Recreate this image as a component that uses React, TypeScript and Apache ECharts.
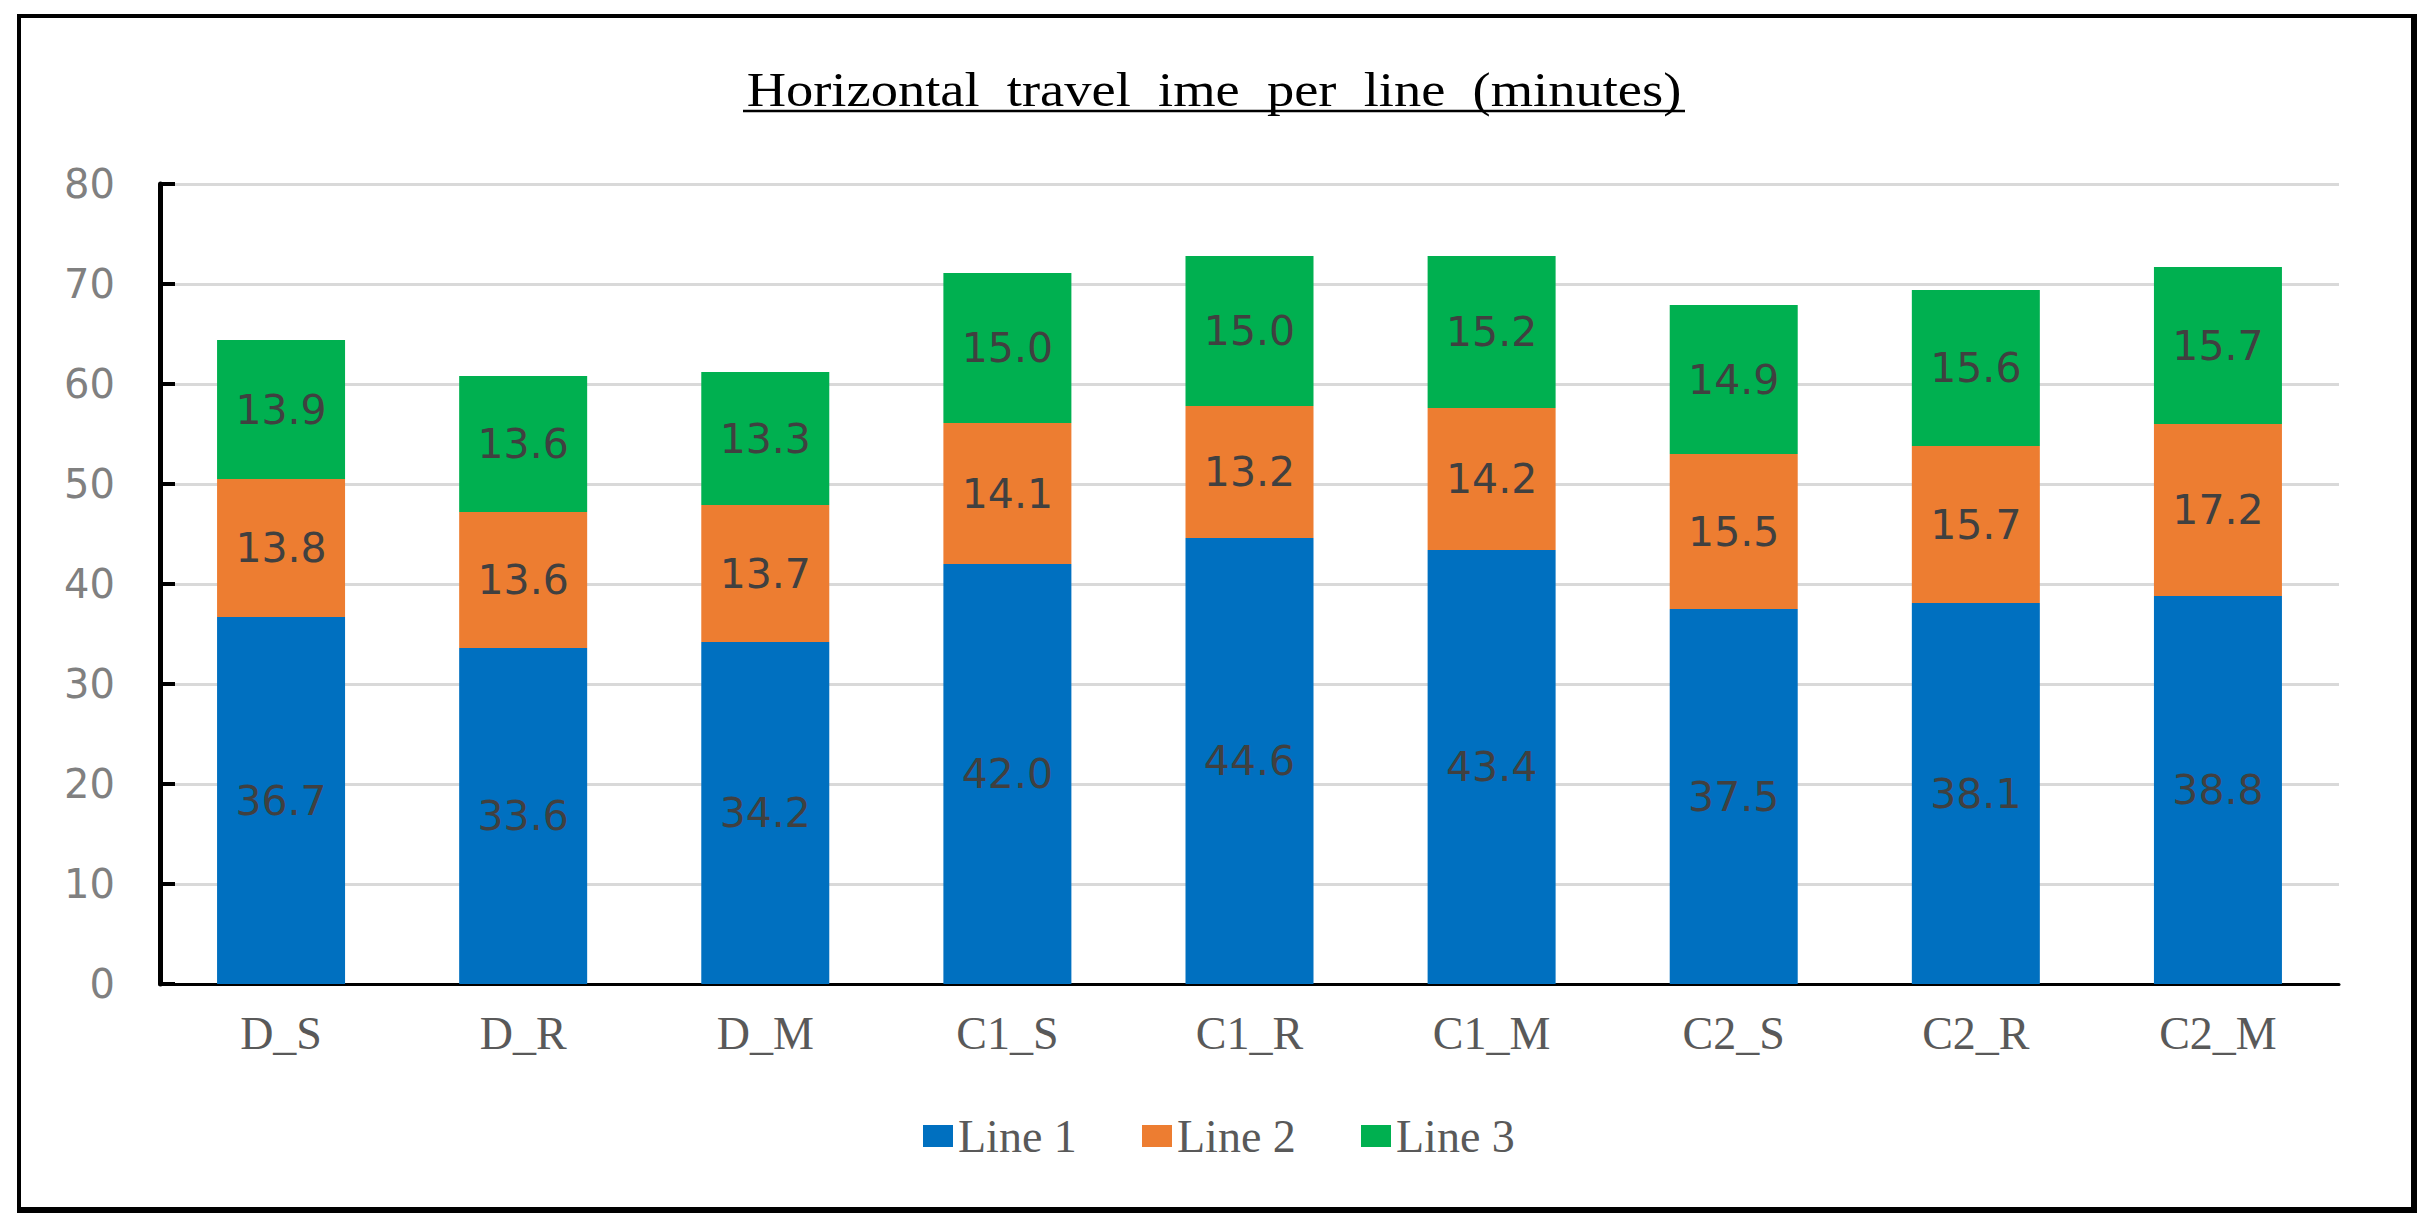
import React, { useEffect, useRef } from "react";
import * as echarts from "echarts";

const categories = ["D_S", "D_R", "D_M", "C1_S", "C1_R", "C1_M", "C2_S", "C2_R", "C2_M"];
const line1 = [36.7, 33.6, 34.2, 42.0, 44.6, 43.4, 37.5, 38.1, 38.8];
const line2 = [13.8, 13.6, 13.7, 14.1, 13.2, 14.2, 15.5, 15.7, 17.2];
const line3 = [13.9, 13.6, 13.3, 15.0, 15.0, 15.2, 14.9, 15.6, 15.7];
const seriesNames = ["Line 1", "Line 2", "Line 3"];
const seriesColors = ["#0070C0", "#ED7D31", "#00B050"];
const yMin = 0;
const yMax = 80;
const yInterval = 10;
const titleText = "Horizontal  travel  ime  per  line  (minutes)";

export default function App() {
  const ref = useRef<HTMLDivElement>(null);
  useEffect(() => {
    if (!ref.current) return;
    const chart = echarts.init(ref.current, undefined, { renderer: "svg" });
    const values = [line1, line2, line3];
    const labelStyle = {
      show: true,
      position: "inside",
      fontFamily: "DejaVu Sans",
      fontSize: 41,
      color: "#404040",
      formatter: (p: any) => Number(p.value).toFixed(1),
    };
    chart.setOption({
      animation: false,
      backgroundColor: "#ffffff",
      grid: { left: 160, right: 91, top: 184, bottom: 247, containLabel: false },
      legend: {
        data: seriesNames,
        left: 918,
        top: 1108,
        icon: "rect",
        itemWidth: 30,
        itemHeight: 22,
        itemGap: 49,
        selectedMode: false,
        textStyle: {
          fontFamily: "Liberation Serif",
          fontSize: 46,
          color: "#595959",
          width: 135,
          lineHeight: 46,
        },
      },
      xAxis: {
        type: "category",
        data: categories,
        axisLine: { show: true, lineStyle: { color: "#000", width: 3 } },
        axisTick: { show: false },
        axisLabel: {
          margin: 26,
          fontFamily: "Liberation Serif",
          fontSize: 46,
          color: "#595959",
        },
      },
      yAxis: {
        type: "value",
        min: yMin,
        max: yMax,
        interval: yInterval,
        axisLine: { show: true, lineStyle: { color: "#000", width: 5 } },
        axisTick: { show: true, inside: true, length: 15, lineStyle: { color: "#000", width: 4 } },
        axisLabel: {
          margin: 45,
          fontFamily: "DejaVu Sans",
          fontSize: 40,
          color: "#808080",
        },
        splitLine: { show: true, lineStyle: { color: "#d9d9d9", width: 3 } },
      },
      series: seriesNames.map((name, i) => ({
        name,
        type: "bar",
        stack: "total",
        barWidth: 128,
        data: values[i],
        itemStyle: { color: seriesColors[i] },
        label: labelStyle,
      })),
      graphic: [
        {
          type: "rect",
          shape: { x: 19, y: 16, width: 2394, height: 1194 },
          style: { fill: "none", stroke: "#000", lineWidth: 4 },
          silent: true,
        },
        {
          type: "line",
          shape: { x1: 2414, y1: 14, x2: 2414, y2: 1212 },
          style: { stroke: "#000", lineWidth: 6 },
          silent: true,
        },
        {
          type: "line",
          shape: { x1: 17, y1: 1210, x2: 2417, y2: 1210 },
          style: { stroke: "#000", lineWidth: 6 },
          silent: true,
        },
        {
          type: "text",
          x: 1214,
          y: 90,
          scaleX: 1.135,
          style: {
            text: titleText,
            font: "48px 'Liberation Serif'",
            fill: "#000",
            textAlign: "center",
            textVerticalAlign: "middle",
          },
          silent: true,
        },
        {
          type: "line",
          shape: { x1: 743, y1: 111, x2: 1685, y2: 111 },
          style: { stroke: "#000", lineWidth: 2.5 },
          silent: true,
        },
      ],
    });
    return () => chart.dispose();
  }, []);
  return (
    <div
      ref={ref}
      style={{ position: "fixed", left: 0, top: 0, width: 2430, height: 1231, background: "#fff" }}
    />
  );
}
